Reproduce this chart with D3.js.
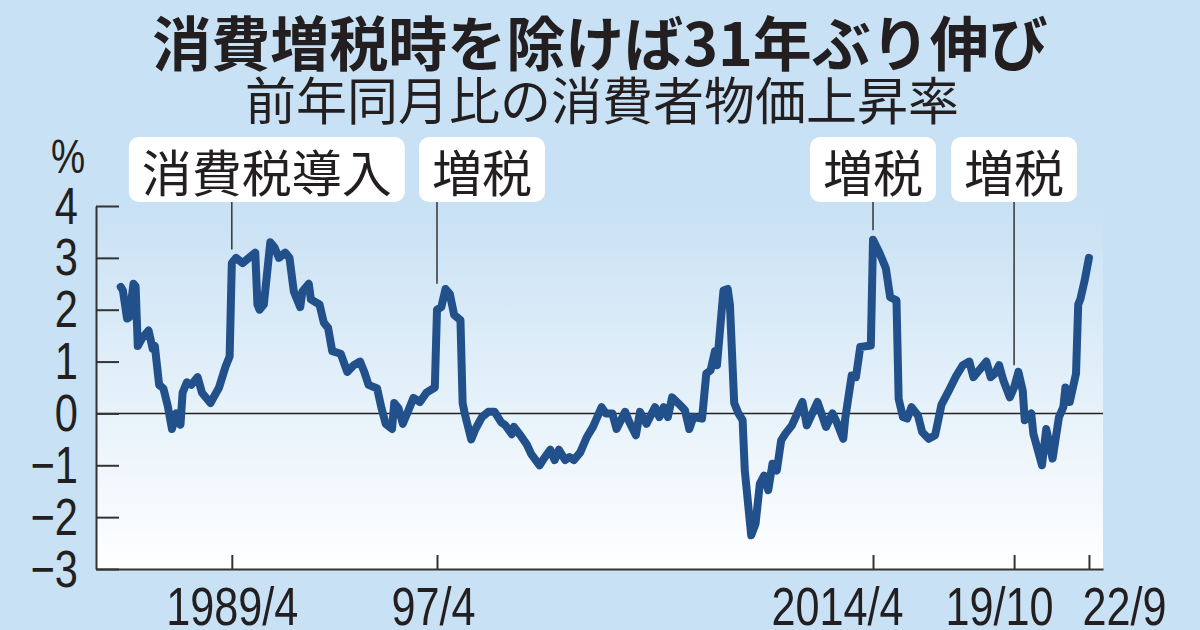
<!DOCTYPE html>
<head>
<meta charset="utf-8">
<script src="https://d3js.org/d3.v7.min.js"></script>
<style>
  body { margin:0; background:#c8e1f4; }
  svg { display:block; }
  .jp { font-family: "Noto Sans CJK JP", sans-serif; }
  .num { font-family: "Liberation Sans", Arial, sans-serif; }
</style>
</head>
<body>
<svg id="chart"></svg>
<script>
var width = 1200, height = 630;
var margin = {top: 206, right: 97, bottom: 61, left: 96};

// consumer price index, change from the same month a year earlier (%)
var months = ["1984-12","1985-01","1985-03","1985-04","1985-06","1985-07","1985-08","1985-10","1986-01","1986-03",
  "1986-04","1986-06","1986-08","1986-10","1986-12","1987-02","1987-04","1987-05","1987-07","1987-09",
  "1987-12","1988-02","1988-06","1988-10","1989-01","1989-03","1989-04","1989-06","1989-09","1990-03",
  "1990-04","1990-05","1990-07","1990-10","1990-12","1991-02","1991-05","1991-07","1991-09","1991-12",
  "1992-01","1992-04","1992-05","1992-09","1992-11","1993-01","1993-03","1993-07","1993-10","1994-01",
  "1994-04","1994-06","1994-08","1994-12","1995-02","1995-04","1995-07","1995-08","1995-10","1995-12",
  "1996-02","1996-05","1996-08","1996-11","1997-03","1997-04","1997-06","1997-08","1997-10","1997-12",
  "1998-03","1998-04","1998-05","1998-08","1998-10","1999-01","1999-04","1999-07","1999-10","1999-12",
  "2000-03","2000-04","2000-07","2000-10","2000-12","2001-04","2001-06","2001-09","2001-11","2002-01",
  "2002-04","2002-06","2002-08","2002-11","2003-02","2003-05","2003-07","2003-09","2003-11","2004-02",
  "2004-04","2004-08","2004-10","2005-01","2005-03","2005-06","2005-10","2005-12","2006-02","2006-04",
  "2006-06","2006-09","2006-12","2007-02","2007-04","2007-08","2007-10","2007-12","2008-02","2008-03",
  "2008-06","2008-08","2008-09","2008-11","2009-01","2009-03","2009-04","2009-07","2009-09","2009-11",
  "2010-01","2010-03","2010-05","2010-07","2010-09","2010-11","2011-02","2011-07","2011-09","2012-02",
  "2012-06","2012-09","2012-11","2013-02","2013-03","2013-06","2013-08","2013-10","2014-03","2014-04",
  "2014-07","2014-10","2014-12","2015-03","2015-04","2015-06","2015-08","2015-10","2016-01","2016-03",
  "2016-06","2016-09","2016-12","2017-03","2017-07","2017-10","2018-01","2018-03","2018-05","2018-09",
  "2018-11","2019-01","2019-03","2019-05","2019-08","2019-10","2019-12","2020-02","2020-03","2020-06",
  "2020-07","2020-11","2021-01","2021-04","2021-07","2021-09","2021-10","2021-12","2022-03","2022-04",
  "2022-05","2022-07","2022-09"];
var cpi = [2.44,2.37,1.83,1.85,2.5,2.45,1.3,1.45,1.6,1.25,
  1.3,0.55,0.48,0.15,-0.3,0.0,-0.22,0.4,0.6,0.55,
  0.7,0.4,0.2,0.5,0.9,1.1,2.9,3.0,2.9,3.1,
  2.1,2.0,2.1,3.3,3.2,3.0,3.1,3.0,2.35,2.05,
  2.35,2.5,2.2,2.1,1.75,1.65,1.2,1.15,0.8,0.93,
  1.0,0.8,0.55,0.48,0.1,-0.2,-0.3,0.2,0.1,-0.2,
  0.0,0.3,0.22,0.4,0.5,2.0,2.05,2.4,2.3,1.9,
  1.8,0.2,0.0,-0.5,-0.3,-0.07,0.03,0.03,-0.17,-0.23,
  -0.4,-0.26,-0.42,-0.6,-0.78,-1.0,-0.87,-0.7,-0.9,-0.7,
  -0.9,-0.84,-0.9,-0.75,-0.46,-0.26,-0.07,0.12,0.0,0.0,
  -0.3,0.03,-0.17,-0.42,0.03,-0.2,0.12,-0.07,0.12,-0.07,
  0.31,0.19,0.06,-0.3,-0.07,-0.1,0.77,0.83,1.2,0.93,
  2.37,2.4,2.1,0.2,0.0,-0.13,-1.1,-2.35,-2.13,-1.36,
  -1.2,-1.48,-0.97,-1.1,-0.52,-0.39,-0.23,0.22,-0.23,0.22,
  -0.26,0.0,-0.17,-0.49,-0.1,0.73,0.7,1.28,1.31,3.35,
  3.1,2.8,2.24,2.18,0.28,-0.07,-0.1,0.12,-0.04,-0.36,
  -0.49,-0.42,0.17,0.4,0.73,0.93,1.0,0.7,0.8,1.0,
  0.7,0.77,0.93,0.64,0.31,0.5,0.8,0.44,-0.13,0.0,
  -0.39,-1.0,-0.3,-0.87,-0.07,0.12,0.5,0.22,0.77,2.1,
  2.2,2.56,3.0];

var yTicks = [4, 3, 2, 1, 0, -1, -2, -3];
var xTickMonths = ["1989-04", "1997-04", "2014-04", "2019-10", "2022-09"];
var xTickLabels = ["1989/4", "97/4", "2014/4", "19/10", "22/9"];
var noteMonths = ["1989-04", "1997-04", "2014-04", "2019-10"];
var noteLabels = ["消費税導入", "増税", "増税", "増税"];
var noteEnds = [3.16, 2.5, 3.53, 0.93];   // leader line stops at this value

var parseMonth = d3.timeParse("%Y-%m");
var data = months.map(function(m, i){ return {date: parseMonth(m), v: cpi[i]}; });

var svg = d3.select("#chart").attr("width", width).attr("height", height);

var x = d3.scaleTime()
  .domain([new Date(1983, 11, 15), new Date(2023, 2, 20)])
  .range([margin.left, width - margin.right]);
var y = d3.scaleLinear().domain([-3, 4]).range([height - margin.bottom, margin.top]);

// condensed look for the numerals: squeeze Liberation Sans horizontally
var squeeze = 0.8;
function narrow(sel, dx, dy) {
  sel.attr("x", 0).attr("y", 0)
    .attr("transform", "translate(" + dx + "," + dy + ") scale(" + squeeze + ",1)");
}

// plot background: light blue fading to white
var grad = svg.append("defs").append("linearGradient")
  .attr("id", "bg").attr("x1", 0).attr("y1", 0).attr("x2", 0).attr("y2", 1);
grad.append("stop").attr("offset", "0%").attr("stop-color", "#c8e1f4");
grad.append("stop").attr("offset", "100%").attr("stop-color", "#ffffff");
svg.append("rect")
  .attr("x", margin.left).attr("y", margin.top)
  .attr("width", width - margin.left - margin.right)
  .attr("height", height - margin.top - margin.bottom)
  .attr("fill", "url(#bg)");

// titles
svg.append("text").attr("class", "jp")
  .attr("x", 600).attr("y", 40)
  .attr("text-anchor", "middle").attr("dominant-baseline", "central")
  .attr("font-size", 59).attr("font-weight", "bold").attr("fill", "#231f20")
  .text("消費増税時を除けば31年ぶり伸び");
svg.append("text").attr("class", "jp")
  .attr("x", 602).attr("y", 98)
  .attr("text-anchor", "middle").attr("dominant-baseline", "central")
  .attr("font-size", 51).attr("fill", "#231f20")
  .text("前年同月比の消費者物価上昇率");

// zero line
svg.append("line")
  .attr("x1", margin.left).attr("x2", width - margin.right)
  .attr("y1", y(0)).attr("y2", y(0))
  .attr("stroke", "#222").attr("stroke-width", 1.5);

// axes
var yAxis = d3.axisLeft(y).tickValues(yTicks).tickSize(-23).tickSizeOuter(0)
  .tickFormat(d3.format("d"));
var yAxisGroup = svg.append("g")
  .attr("transform", "translate(" + margin.left + ",0)")
  .call(yAxis);

var xAxis = d3.axisBottom(x)
  .tickValues(xTickMonths.map(parseMonth))
  .tickSize(-14).tickSizeOuter(0)
  .tickFormat(function(d, i){ return xTickLabels[i]; });
var xAxisGroup = svg.append("g")
  .attr("transform", "translate(0," + (height - margin.bottom) + ")")
  .call(xAxis);

[yAxisGroup, xAxisGroup].forEach(function(g){
  g.selectAll("path, line").attr("stroke", "#333").attr("stroke-width", 2);
  g.selectAll("text").attr("class", "num").attr("fill", "#231f20").attr("dy", null);
});
yAxisGroup.selectAll("text").attr("font-size", 52)
  .each(function(){ narrow(d3.select(this), -18, 17); });
// x labels are nudged off their ticks as in the print layout
var xLabelShift = [0, -4, -36, -15, 35];
xAxisGroup.selectAll("text").attr("font-size", 54)
  .each(function(d, i){ narrow(d3.select(this), xLabelShift[i], 56); });

var pct = svg.append("text").attr("class", "num")
  .attr("text-anchor", "middle")
  .attr("font-size", 48).attr("fill", "#231f20")
  .text("%");
narrow(pct, 68, 173);

// the series
var line = d3.line()
  .x(function(d){ return x(d.date); })
  .y(function(d){ return y(d.v); });
svg.append("path")
  .attr("d", line(data))
  .attr("fill", "none")
  .attr("stroke", "#22508a")
  .attr("stroke-width", 8)
  .attr("stroke-linejoin", "round")
  .attr("stroke-linecap", "round");

// tax notes
var noteShift = [35, 45, 0, 0];
noteMonths.forEach(function(m, i){
  var cx = x(parseMonth(m));
  svg.append("line")
    .attr("x1", cx).attr("x2", cx)
    .attr("y1", 202).attr("y2", y(noteEnds[i]))
    .attr("stroke", "#333").attr("stroke-width", 1.5);
  var g = svg.append("g");
  var box = g.append("rect");
  var t = g.append("text").attr("class", "jp")
    .attr("x", cx + noteShift[i]).attr("y", 170)
    .attr("text-anchor", "middle").attr("dominant-baseline", "central")
    .attr("font-size", 50).attr("fill", "#231f20")
    .text(noteLabels[i]);
  var w = t.node().getComputedTextLength() + 26;
  box.attr("x", cx + noteShift[i] - w / 2).attr("y", 137)
    .attr("width", w).attr("height", 65)
    .attr("rx", 10).attr("fill", "#fff");
});
</script>
</body>
